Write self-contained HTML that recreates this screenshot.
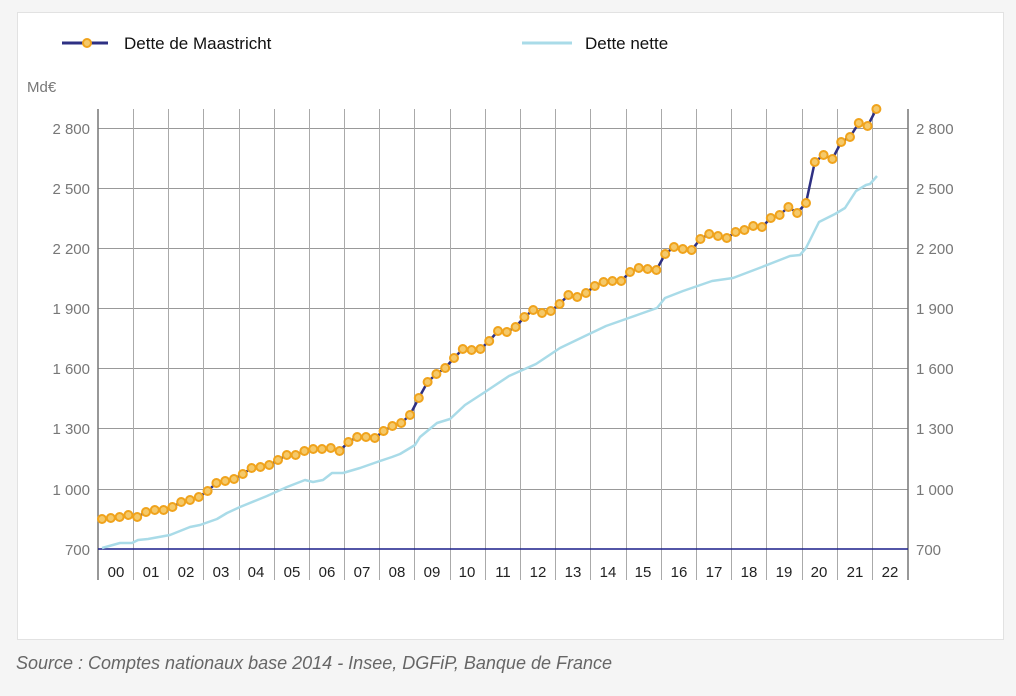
<!DOCTYPE html>
<html><head><meta charset="utf-8"><style>
html,body{margin:0;padding:0;background:#f5f5f5;}
body{width:1016px;height:691px;overflow:hidden;}
text{font-family:"Liberation Sans",sans-serif;}
</style></head><body>
<svg width="1016" height="691" viewBox="0 0 1016 691" xmlns="http://www.w3.org/2000/svg">
<rect x="17.5" y="12.5" width="986" height="627" fill="#fff" stroke="#e2e2e2"/>
<!-- legend -->
<line x1="62" y1="43" x2="108" y2="43" stroke="#2e3083" stroke-width="3"/>
<circle cx="87" cy="43" r="4" fill="#f5c96a" stroke="#f0a31c" stroke-width="2"/>
<text x="124" y="49" font-size="17" fill="#111">Dette de Maastricht</text>
<line x1="522" y1="43" x2="572" y2="43" stroke="#a9dbe8" stroke-width="3"/>
<text x="585" y="49" font-size="17" fill="#111">Dette nette</text>
<text x="27" y="92" font-size="15" fill="#777">Md€</text>
<!-- grid -->
<g stroke="#999" stroke-width="1">
<line x1="98" y1="128.5" x2="908" y2="128.5"/><line x1="98" y1="188.5" x2="908" y2="188.5"/>
<line x1="98" y1="248.5" x2="908" y2="248.5"/><line x1="98" y1="308.5" x2="908" y2="308.5"/>
<line x1="98" y1="368.5" x2="908" y2="368.5"/><line x1="98" y1="428.5" x2="908" y2="428.5"/>
<line x1="98" y1="489.5" x2="908" y2="489.5"/>
</g>
<g stroke="#aaa" stroke-width="1">
<line x1="133.5" y1="109" x2="133.5" y2="580"/><line x1="168.5" y1="109" x2="168.5" y2="580"/>
<line x1="203.5" y1="109" x2="203.5" y2="580"/><line x1="239.5" y1="109" x2="239.5" y2="580"/>
<line x1="274.5" y1="109" x2="274.5" y2="580"/><line x1="309.5" y1="109" x2="309.5" y2="580"/>
<line x1="344.5" y1="109" x2="344.5" y2="580"/><line x1="379.5" y1="109" x2="379.5" y2="580"/>
<line x1="414.5" y1="109" x2="414.5" y2="580"/><line x1="450.5" y1="109" x2="450.5" y2="580"/>
<line x1="485.5" y1="109" x2="485.5" y2="580"/><line x1="520.5" y1="109" x2="520.5" y2="580"/>
<line x1="555.5" y1="109" x2="555.5" y2="580"/><line x1="590.5" y1="109" x2="590.5" y2="580"/>
<line x1="626.5" y1="109" x2="626.5" y2="580"/><line x1="661.5" y1="109" x2="661.5" y2="580"/>
<line x1="696.5" y1="109" x2="696.5" y2="580"/><line x1="731.5" y1="109" x2="731.5" y2="580"/>
<line x1="766.5" y1="109" x2="766.5" y2="580"/><line x1="802.5" y1="109" x2="802.5" y2="580"/>
<line x1="837.5" y1="109" x2="837.5" y2="580"/><line x1="872.5" y1="109" x2="872.5" y2="580"/>
</g>
<line x1="98" y1="109" x2="98" y2="580" stroke="#777" stroke-width="1.5"/>
<line x1="908" y1="109" x2="908" y2="580" stroke="#777" stroke-width="1.5"/>
<line x1="98" y1="549" x2="908" y2="549" stroke="#1a1f8a" stroke-width="1.5"/>
<!-- y labels -->
<g font-size="15" fill="#777" text-anchor="end">
<text x="90" y="134">2 800</text><text x="90" y="194">2 500</text><text x="90" y="254">2 200</text>
<text x="90" y="314">1 900</text><text x="90" y="374">1 600</text><text x="90" y="434">1 300</text>
<text x="90" y="495">1 000</text><text x="90" y="555">700</text>
</g>
<g font-size="15" fill="#777">
<text x="916" y="134">2 800</text><text x="916" y="194">2 500</text><text x="916" y="254">2 200</text>
<text x="916" y="314">1 900</text><text x="916" y="374">1 600</text><text x="916" y="434">1 300</text>
<text x="916" y="495">1 000</text><text x="916" y="555">700</text>
</g>
<g font-size="15" fill="#222" text-anchor="middle">
<text x="116" y="577">00</text><text x="151" y="577">01</text><text x="186" y="577">02</text>
<text x="221" y="577">03</text><text x="256" y="577">04</text><text x="292" y="577">05</text>
<text x="327" y="577">06</text><text x="362" y="577">07</text><text x="397" y="577">08</text>
<text x="432" y="577">09</text><text x="467" y="577">10</text><text x="503" y="577">11</text>
<text x="538" y="577">12</text><text x="573" y="577">13</text><text x="608" y="577">14</text>
<text x="643" y="577">15</text><text x="679" y="577">16</text><text x="714" y="577">17</text>
<text x="749" y="577">18</text><text x="784" y="577">19</text><text x="819" y="577">20</text>
<text x="855" y="577">21</text><text x="890" y="577">22</text>
</g>
<!-- net debt -->
<polyline fill="none" stroke="#a9dbe8" stroke-width="2.5" stroke-linejoin="round" points="102,548 120,543 132,543 138,540 148,539 170,535 190,527 200,525 217,519 227,513 240,507 267,496 287,487 305,480 313,482 323,480 332,473 343,473 360,468 380,461 392,457 400,454 415,445 420,437 437,423 450,419 465,405 485,392 509,376 536,364 560,348 585,336 606,326 640,314 657,308 665,298 683,291 712,281 733,278 762,267 790,256 800,255 806,248 819,222 835,214 845,208 856,191 866,185 870,184 877,176"/>
<!-- maastricht -->
<polyline fill="none" stroke="#2e3083" stroke-width="2.5" stroke-linejoin="round" points="102,519 110.8,518 119.6,517 128.4,515 137.2,517 146,512 154.8,510 163.6,510 172.4,507 181.2,502 190,500 198.8,497 207.6,491 216.4,483 225.2,481 234,479 242.8,474 251.6,468 260.4,467 269.2,465 278,460 286.8,455 295.6,455 304.4,451 313.2,449 322,449 330.8,448 339.6,451 348.4,442 357.2,437 366,437 374.8,438 383.6,431 392.4,426 401.2,423 410,415 418.8,398 427.6,382 436.4,374 445.2,368 454,358 462.8,349 471.6,350 480.4,349 489.2,341 498,331 506.8,332 515.6,327 524.4,317 533.2,310 542,313 550.8,311 559.6,304 568.4,295 577.2,297 586,293 594.8,286 603.6,282 612.4,281 621.2,281 630,272 638.8,268 647.6,269 656.4,270 665.2,254 674,247 682.8,249 691.6,250 700.4,239 709.2,234 718,236 726.8,238 735.6,232 744.4,230 753.2,226 762,227 770.8,218 779.6,215 788.4,207 797.2,213 806,203 814.8,162 823.6,155 832.4,159 841.2,142 850,137 858.8,123 867.6,126 876.4,109"/>
<g fill="#f5c96a" stroke="#f0a31c" stroke-width="2">
<circle cx="102" cy="519" r="4"/><circle cx="110.8" cy="518" r="4"/><circle cx="119.6" cy="517" r="4"/><circle cx="128.4" cy="515" r="4"/>
<circle cx="137.2" cy="517" r="4"/><circle cx="146" cy="512" r="4"/><circle cx="154.8" cy="510" r="4"/><circle cx="163.6" cy="510" r="4"/>
<circle cx="172.4" cy="507" r="4"/><circle cx="181.2" cy="502" r="4"/><circle cx="190" cy="500" r="4"/><circle cx="198.8" cy="497" r="4"/>
<circle cx="207.6" cy="491" r="4"/><circle cx="216.4" cy="483" r="4"/><circle cx="225.2" cy="481" r="4"/><circle cx="234" cy="479" r="4"/>
<circle cx="242.8" cy="474" r="4"/><circle cx="251.6" cy="468" r="4"/><circle cx="260.4" cy="467" r="4"/><circle cx="269.2" cy="465" r="4"/>
<circle cx="278" cy="460" r="4"/><circle cx="286.8" cy="455" r="4"/><circle cx="295.6" cy="455" r="4"/><circle cx="304.4" cy="451" r="4"/>
<circle cx="313.2" cy="449" r="4"/><circle cx="322" cy="449" r="4"/><circle cx="330.8" cy="448" r="4"/><circle cx="339.6" cy="451" r="4"/>
<circle cx="348.4" cy="442" r="4"/><circle cx="357.2" cy="437" r="4"/><circle cx="366" cy="437" r="4"/><circle cx="374.8" cy="438" r="4"/>
<circle cx="383.6" cy="431" r="4"/><circle cx="392.4" cy="426" r="4"/><circle cx="401.2" cy="423" r="4"/><circle cx="410" cy="415" r="4"/>
<circle cx="418.8" cy="398" r="4"/><circle cx="427.6" cy="382" r="4"/><circle cx="436.4" cy="374" r="4"/><circle cx="445.2" cy="368" r="4"/>
<circle cx="454" cy="358" r="4"/><circle cx="462.8" cy="349" r="4"/><circle cx="471.6" cy="350" r="4"/><circle cx="480.4" cy="349" r="4"/>
<circle cx="489.2" cy="341" r="4"/><circle cx="498" cy="331" r="4"/><circle cx="506.8" cy="332" r="4"/><circle cx="515.6" cy="327" r="4"/>
<circle cx="524.4" cy="317" r="4"/><circle cx="533.2" cy="310" r="4"/><circle cx="542" cy="313" r="4"/><circle cx="550.8" cy="311" r="4"/>
<circle cx="559.6" cy="304" r="4"/><circle cx="568.4" cy="295" r="4"/><circle cx="577.2" cy="297" r="4"/><circle cx="586" cy="293" r="4"/>
<circle cx="594.8" cy="286" r="4"/><circle cx="603.6" cy="282" r="4"/><circle cx="612.4" cy="281" r="4"/><circle cx="621.2" cy="281" r="4"/>
<circle cx="630" cy="272" r="4"/><circle cx="638.8" cy="268" r="4"/><circle cx="647.6" cy="269" r="4"/><circle cx="656.4" cy="270" r="4"/>
<circle cx="665.2" cy="254" r="4"/><circle cx="674" cy="247" r="4"/><circle cx="682.8" cy="249" r="4"/><circle cx="691.6" cy="250" r="4"/>
<circle cx="700.4" cy="239" r="4"/><circle cx="709.2" cy="234" r="4"/><circle cx="718" cy="236" r="4"/><circle cx="726.8" cy="238" r="4"/>
<circle cx="735.6" cy="232" r="4"/><circle cx="744.4" cy="230" r="4"/><circle cx="753.2" cy="226" r="4"/><circle cx="762" cy="227" r="4"/>
<circle cx="770.8" cy="218" r="4"/><circle cx="779.6" cy="215" r="4"/><circle cx="788.4" cy="207" r="4"/><circle cx="797.2" cy="213" r="4"/>
<circle cx="806" cy="203" r="4"/><circle cx="814.8" cy="162" r="4"/><circle cx="823.6" cy="155" r="4"/><circle cx="832.4" cy="159" r="4"/>
<circle cx="841.2" cy="142" r="4"/><circle cx="850" cy="137" r="4"/><circle cx="858.8" cy="123" r="4"/><circle cx="867.6" cy="126" r="4"/>
<circle cx="876.4" cy="109" r="4"/>
</g>
<text x="16" y="669" font-size="18" font-style="italic" fill="#666" textLength="596" lengthAdjust="spacingAndGlyphs">Source : Comptes nationaux base 2014 - Insee, DGFiP, Banque de France</text>
</svg>
</body></html>
